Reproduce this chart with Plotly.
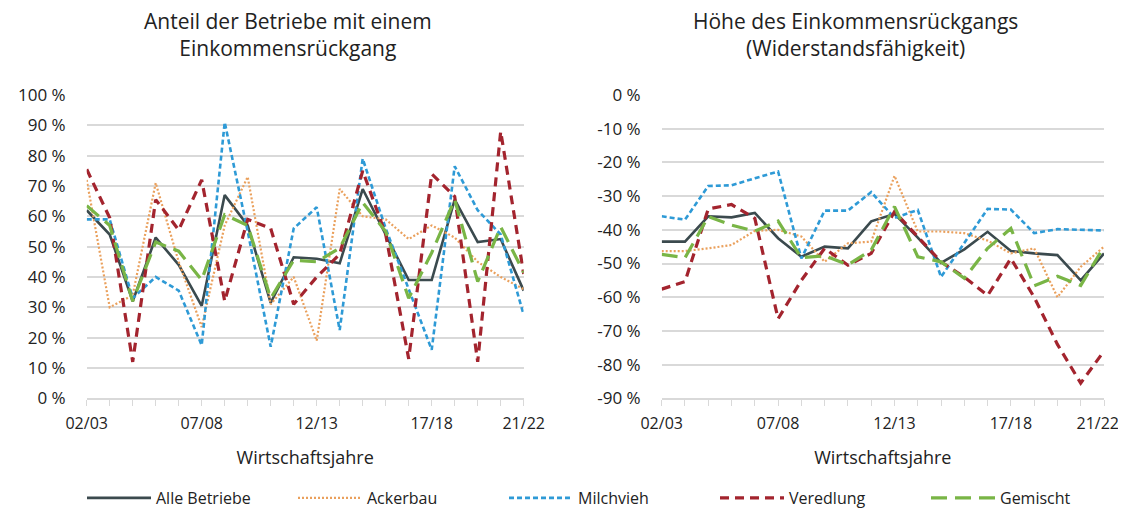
import plotly.graph_objects as go

# the page puts the figure 8px in from the top-left corner (body margin);
# keep the page short enough that no scrollbar appears
OFF = 8
W, H = 1126 - OFF, 517 - 2 * OFF

years = ["02/03", "03/04", "04/05", "05/06", "06/07", "07/08", "08/09", "09/10", "10/11", "11/12",
         "12/13", "13/14", "14/15", "15/16", "16/17", "17/18", "18/19", "19/20", "20/21", "21/22"]
shown_years = ["02/03", "07/08", "12/13", "17/18", "21/22"]

series_names = ["Alle Betriebe", "Ackerbau", "Milchvieh", "Veredlung", "Gemischt"]

# Anteil der Betriebe mit einem Einkommensrückgang (%)
share_alle = [62, 54, 32, 53, 44, 30.5, 67, 57, 31.5, 46.5, 46, 44.5, 69, 54, 39, 39, 65.5, 51.5, 52.5, 35.5]
share_acker = [72, 30, 34, 71, 45, 23.5, 57, 73, 31, 40, 19, 69, 60, 59, 52.5, 57, 53, 45, 40, 36]
share_milch = [59, 59, 33, 40, 35.5, 17.5, 91, 55, 17, 56, 63, 22.5, 79, 56, 36, 16, 76.5, 62, 54, 27.5]
share_vered = [75.5, 59.5, 12, 65.5, 55.5, 72, 32, 59, 56, 31, 40, 47.5, 75, 54, 13, 74, 66.5, 12, 88, 41]
share_gem = [63.5, 57, 32, 51.5, 48.5, 39, 60.5, 57, 33, 45.5, 45, 49.5, 64.5, 55, 33, 48, 65.5, 38.5, 56.5, 41.5]

# Höhe des Einkommensrückgangs (%)
drop_alle = [-43.5, -43.5, -36, -36.3, -35, -42.5, -48, -45, -45.5, -37.5, -35.3, -42.3, -49.8, -45.8, -40.6, -46.3, -47, -47.5, -55, -47]
drop_acker = [-46.3, -46.3, -45.5, -44.5, -40.3, -40, -42, -49.5, -44, -43.5, -24, -40.5, -40.5, -41, -43.2, -47, -45.5, -60, -51, -45]
drop_milch = [-36, -37, -27, -26.8, -24.7, -22.7, -48.5, -34.3, -34.3, -28.8, -36.5, -34.1, -54, -44, -33.8, -34, -41, -39.8, -40, -40.2]
drop_vered = [-57.6, -55.4, -33.8, -32.5, -36.6, -66.4, -55, -45.5, -50.5, -47, -34.6, -42, -49.5, -54, -59.5, -48.5, -60, -74, -85.5, -76]
drop_gem = [-47.3, -48.3, -36.1, -38.6, -40.4, -37.4, -48.3, -47.7, -50.4, -46, -33.1, -48, -49.5, -54.4, -45.5, -39.6, -56.6, -53.8, -56.5, -45]

left_ticks = list(range(0, 101, 10))
right_ticks = list(range(-90, 1, 10))

colors = ["#3b4a4e", "#eaa05c", "#2e9ad6", "#a3242e", "#79b546"]
dashes = ["solid", "2px,2px", "5px,3px", "9px,6px", "16px,8px"]
widths = [2.6, 2.2, 2.6, 3.2, 3.2]

FONT = "Open Sans, Lato, sans-serif"
TXT = "#222222"


def px_x(v):
    return (v - OFF) / W


def px_y(v):
    return 1 - (v - OFF) / H


fig = go.Figure()

left = [share_alle, share_acker, share_milch, share_vered, share_gem]
right = [drop_alle, drop_acker, drop_milch, drop_vered, drop_gem]

for i, name in enumerate(series_names):
    line = dict(color=colors[i], dash=dashes[i], width=widths[i])
    fig.add_trace(go.Scatter(x=years, y=left[i], name=name, mode="lines", line=line,
                             xaxis="x", yaxis="y", legendgroup=name))
    fig.add_trace(go.Scatter(x=years, y=right[i], name=name, mode="lines", line=line,
                             xaxis="x2", yaxis="y2", legendgroup=name, showlegend=False))

ticktext = [y if y in shown_years else "" for y in years]
# last label of the right panel sits at the page edge: nudge it a little inwards
ticktext2 = ticktext[:-1] + [ticktext[-1] + "\u00a0\u00a0\u00a0"]

xaxis_common = dict(
    type="category", range=[0, len(years) - 1], tickmode="array", tickvals=years,
    ticks="outside", ticklen=6, tickcolor="#d9d9d9", tickwidth=1.2,
    showline=True, linecolor="#d9d9d9", linewidth=1.5, showgrid=False, zeroline=False,
    tickfont=dict(family=FONT, size=16, color=TXT), ticklabelstandoff=4, automargin=False,
    title=dict(text="Wirtschaftsjahre", font=dict(family=FONT, size=18, color=TXT), standoff=18),
)
yaxis_common = dict(
    showgrid=True, gridcolor="#d9d9d9", gridwidth=1.5, zeroline=False, automargin=False,
    showline=False, tickfont=dict(family=FONT, size=17, color=TXT), tickmode="array",
)

y_dom = [px_y(398.3), px_y(95)]

fig.update_layout(
    width=W, height=H,
    margin=dict(l=0, r=0, t=0, b=0, autoexpand=False),
    paper_bgcolor="white", plot_bgcolor="white",
    xaxis=dict(domain=[px_x(86.7), px_x(523.7)], anchor="y", ticktext=ticktext, **xaxis_common),
    xaxis2=dict(domain=[px_x(661.7), px_x(1104)], anchor="y2", ticktext=ticktext2, **xaxis_common),
    yaxis=dict(domain=y_dom, anchor="x", range=[0, 100], tickvals=left_ticks,
               ticktext=[f"{v} %" for v in left_ticks], ticklabelstandoff=20, **yaxis_common),
    yaxis2=dict(domain=y_dom, anchor="x2", range=[-90, 0], tickvals=right_ticks,
                ticktext=[f"{v} %" for v in right_ticks], ticklabelstandoff=20, **yaxis_common),
    legend=dict(orientation="h", x=px_x(82), xanchor="left", y=px_y(498), yanchor="middle",
                entrywidth=132, entrywidthmode="pixels", itemwidth=64,
                font=dict(family=FONT, size=16, color=TXT)),
    annotations=[
        dict(text="Anteil der Betriebe mit einem<br>Einkommensrückgang", x=px_x(288), y=px_y(34),
             xref="paper", yref="paper", xanchor="center", yanchor="middle", showarrow=False,
             font=dict(family=FONT, size=21, color=TXT)),
        dict(text="Höhe des Einkommensrückgangs<br>(Widerstandsfähigkeit)", x=px_x(855), y=px_y(34),
             xref="paper", yref="paper", xanchor="center", yanchor="middle", showarrow=False,
             font=dict(family=FONT, size=21, color=TXT)),
    ],
)

fig.write_html("out.html")
